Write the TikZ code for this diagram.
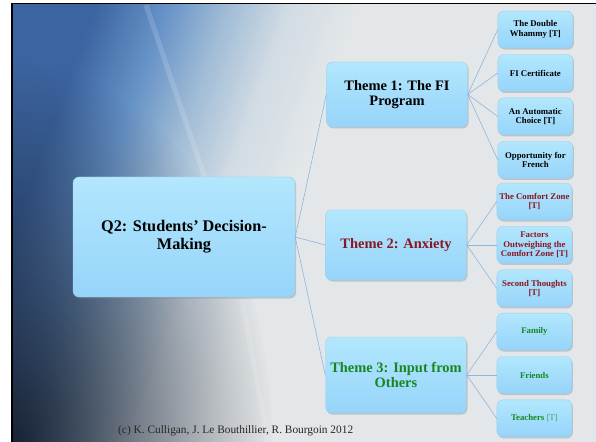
\documentclass[tikz,border=0pt]{standalone}
\usepackage{fontspec}
\setmainfont{Liberation Serif}
\usetikzlibrary{positioning, shadows, fadings}

\definecolor{boxtop}{RGB}{178,231,253}
\definecolor{boxbot}{RGB}{150,212,250}
\definecolor{boxedge}{RGB}{160,205,232}
\definecolor{linkblue}{RGB}{140,182,226}
\definecolor{anxred}{RGB}{140,22,30}
\definecolor{othgreen}{RGB}{22,135,32}
\definecolor{tgreen}{RGB}{60,165,95}
\definecolor{bgA}{RGB}{60,100,160}
\definecolor{bgB}{RGB}{100,145,198}
\definecolor{bgC}{RGB}{160,188,214}
\definecolor{bgD}{RGB}{210,220,228}
\definecolor{bgE}{RGB}{227,231,233}
\definecolor{navy}{RGB}{16,22,36}

\pgfdeclarehorizontalshading{slideshade}{100bp}{color(0bp)=(bgA); color(25bp)=(bgA);
  color(31bp)=(bgB); color(36.5bp)=(bgC); color(42bp)=(bgD); color(48bp)=(bgE); color(100bp)=(bgE)}
\tikzfading[name=cornerfade, inner color=transparent!0, outer color=transparent!100]

\begin{document}
\begin{tikzpicture}[x=1bp, y=-1bp, node distance=6bp]
    % Define the styles
    \tikzset{
        box/.style = {draw=boxedge, line width=0.4bp, rounded corners=6bp, top color=boxtop, bottom color=boxbot,
                      drop shadow={shadow xshift=1bp, shadow yshift=-1.5bp, opacity=0.35}, align=center, inner sep=2bp},
        root/.style = {box, minimum width=222bp, minimum height=120bp, font=\fontsize{16.3}{18}\selectfont\bfseries},
        theme/.style = {box, minimum width=141bp, font=\fontsize{14.5}{15.5}\selectfont\bfseries},
        leaf/.style = {box, minimum width=75bp, minimum height=37bp, font=\fontsize{8.8}{9.6}\selectfont\bfseries},
        link/.style = {draw=linkblue, line width=0.6bp},
    }

    \useasboundingbox (0,0) rectangle (596,442);

    % Slide background
    \fill[black] (11,3) rectangle (596,442);
    \begin{scope}
        \clip (13,5) rectangle (596,442);
        \shade[shading=slideshade, shading angle=-20] (13,5) rectangle (596,442);
        \fill[navy, fill opacity=0.9, path fading=cornerfade] (13,442) ellipse [x radius=260, y radius=380];
        \draw[white, opacity=0.15, line width=5bp] (146,5) -- (205,178);
        \draw[white, opacity=0.12, line width=5bp] (242,300) -- (268,442);
    \end{scope}

    % Nodes placement
    \node [root] (q2) at (184,237) {Q2: Students’ Decision-\\Making};

    \node [theme, minimum height=65bp] (t1) at (397,94.5) {Theme 1: The FI\\Program};
    \node [theme, minimum height=70bp, text=anxred] (t2) at (396,245) {Theme 2: Anxiety};
    \node [theme, minimum height=76bp, text=othgreen] (t3) at (396,375) {Theme 3: Input from\\Others};

    % Leaves of theme 1
    \node [leaf, right=30bp of t1, yshift=21.5bp] (a2) {FI Certificate};
    \node [leaf, above=of a2] (a1) {The Double\\Whammy [T]};
    \node [leaf, below=of a2] (a3) {An Automatic\\Choice [T]};
    \node [leaf, below=of a3] (a4) {Opportunity for\\French};

    % Leaves of theme 2
    \node [leaf, right=30bp of t2, text=anxred] (b2) {Factors\\Outweighing the\\Comfort Zone [T]};
    \node [leaf, above=of b2, text=anxred] (b1) {The Comfort Zone\\{}[T]};
    \node [leaf, below=of b2, text=anxred] (b3) {Second Thoughts\\{}[T]};

    % Leaves of theme 3
    \node [leaf, right=30bp of t3, text=othgreen] (c2) {Friends};
    \node [leaf, above=of c2, text=othgreen] (c1) {Family};
    \node [leaf, below=of c2, text=othgreen] (c3) {Teachers \textcolor{tgreen}{\mdseries[T]}};

    % Connecting lines
    \draw [link] (q2.east) -- (t1.west);
    \draw [link] (q2.east) -- (t2.west);
    \draw [link] (q2.east) -- (t3.west);
    \foreach \x in {a1,a2,a3,a4} \draw [link] (t1.east) -- (\x.west);
    \foreach \x in {b1,b2,b3} \draw [link] (t2.east) -- (\x.west);
    \foreach \x in {c1,c2,c3} \draw [link] (t3.east) -- (\x.west);

    % Footer
    \node [anchor=base west, inner sep=0pt, text=black!85, font=\fontsize{11.4}{13}\selectfont] (credit) at (118,433)
        {(c) K. Culligan, J. Le Bouthillier, R. Bourgoin 2012};

\end{tikzpicture}
\end{document}
